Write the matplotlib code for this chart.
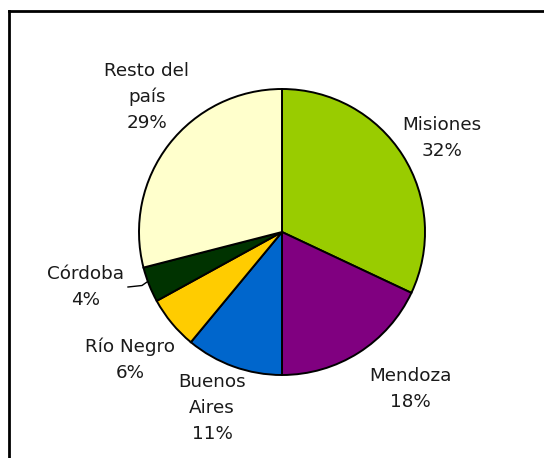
"""
Pie chart: production share by province
"""
import matplotlib.pyplot as plt
from matplotlib.lines import Line2D

# Shares by province (percent)
provinces = ['Misiones', 'Mendoza', 'Buenos Aires', 'Río Negro', 'Córdoba', 'Resto del país']
shares = [32, 18, 11, 6, 4, 29]
label_texts = ['Misiones\n32%', 'Mendoza\n18%', 'Buenos\nAires\n11%',
               'Río Negro\n6%', 'Córdoba\n4%', 'Resto del\npaís\n29%']
colors = ['#99CC00', '#800080', '#0066CC', '#FFCC00', '#003300', '#FFFFCC']

W, H = 544, 458
fig = plt.figure(figsize=(W / 100, H / 100), dpi=100)
ax = fig.add_axes([0, 0, 1, 1])

# pie in pixel-like coordinates (y measured up from the bottom)
cx, cy, r = 282, H - 232, 143
ax.pie(shares, colors=colors, startangle=90, counterclock=False,
       center=(cx, cy), radius=r, frame=True,
       wedgeprops=dict(edgecolor='black', linewidth=1.4))
ax.set_xlim(0, W)
ax.set_ylim(0, H)
ax.set_aspect('equal')
ax.axis('off')

# label positions (x, y from top)
label_pos = [(442, 138), (410, 389), (212, 408), (130, 360), (86, 287), (147, 97)]
for txt, (x, y) in zip(label_texts, label_pos):
    ax.text(x, H - y, txt, ha='center', va='center', multialignment='center',
            fontsize=13.2, color='#1a1a1a', linespacing=1.55, family='DejaVu Sans')

# leader line for Córdoba
ax.plot([128, 142, 147], [H - 287, H - 285.5, H - 282], color='black', linewidth=1)

# outer frame (top and left edges visible)
fig.add_artist(Line2D([8.5 / W, 1], [1 - 10.5 / H, 1 - 10.5 / H], color='black', linewidth=2,
                      transform=fig.transFigure))
fig.add_artist(Line2D([8.5 / W, 8.5 / W], [0, 1 - 10.5 / H], color='black', linewidth=2,
                      transform=fig.transFigure))

plt.savefig('out.png', dpi=100)
